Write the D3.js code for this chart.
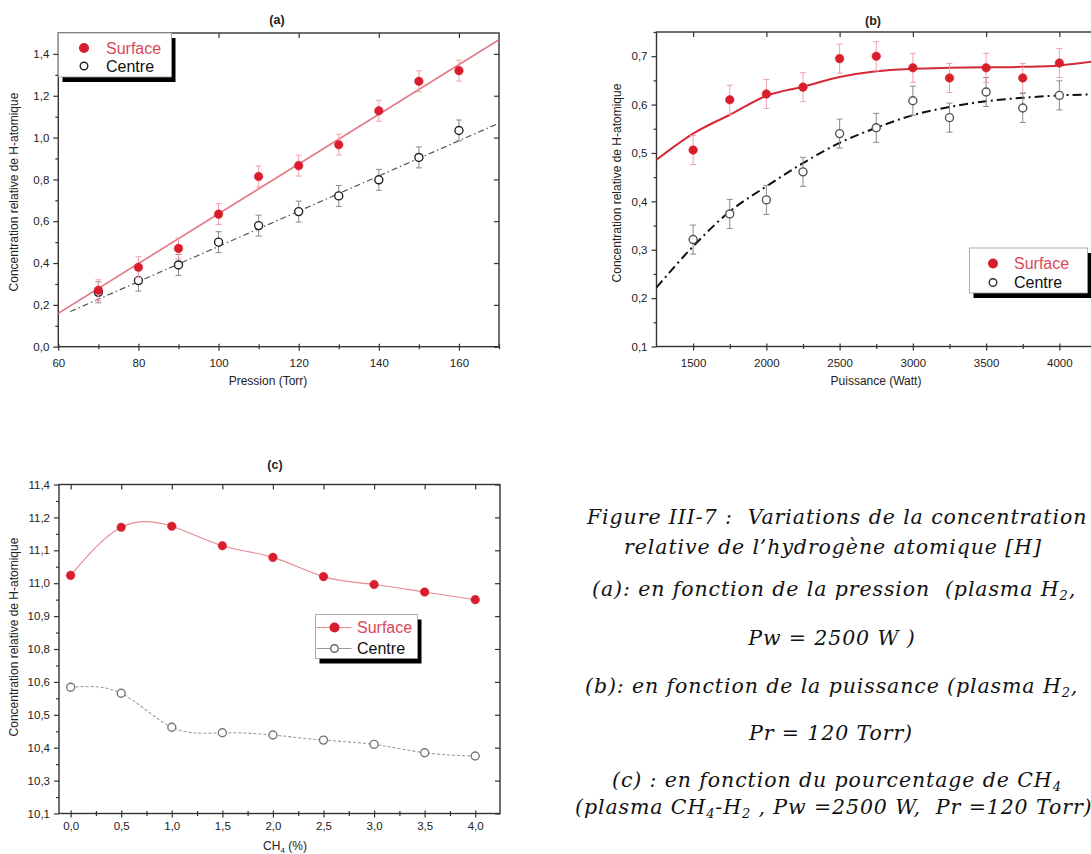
<!DOCTYPE html>
<html>
<head>
<meta charset="utf-8">
<script src="https://cdn.jsdelivr.net/npm/d3@7"></script>
<style>
body { margin: 0; background: #fff; }
svg { display: block; font-family: "Liberation Sans", Arial, sans-serif; }
.caption { font-family: "DejaVu Serif", serif; font-style: italic; font-size: 20.5px; letter-spacing: 0.9px; fill: #111; }
</style>
</head>
<body>
<div id="app"></div>
<script>
// ---- (a) en fonction de la pression
const pressA = [70, 80, 90, 100, 110, 120, 130, 140, 150, 160];
const surfA = [0.27, 0.38, 0.47, 0.634, 0.814, 0.866, 0.966, 1.128, 1.269, 1.32];
const centA = [0.26, 0.316, 0.391, 0.50, 0.579, 0.646, 0.721, 0.798, 0.905, 1.034];
const errSurfA = [0.05, 0.05, 0.05, 0.05, 0.05, 0.05, 0.05, 0.05, 0.05, 0.05];
const errCentA = [0.05, 0.05, 0.05, 0.05, 0.05, 0.05, 0.05, 0.05, 0.05, 0.05];
const fitSurfA = [[60, 0.16], [170, 1.468]];
const fitCentA = [[63, 0.168], [170, 1.069]];
const xTicksA = [60, 80, 100, 120, 140, 160];
const xMinorA = [70, 90, 110, 130, 150, 170];
const yTicksA = [0, 0.2, 0.4, 0.6, 0.8, 1.0, 1.2, 1.4];
const yMinorA = [0.1, 0.3, 0.5, 0.7, 0.9, 1.1, 1.3];

// ---- (b) en fonction de la puissance
const powerB = [1500, 1750, 2000, 2250, 2500, 2750, 3000, 3250, 3500, 3750, 4000];
const surfB = [0.506, 0.61, 0.622, 0.636, 0.695, 0.70, 0.676, 0.655, 0.676, 0.655, 0.686];
const centB = [0.321, 0.374, 0.403, 0.461, 0.54, 0.552, 0.608, 0.573, 0.626, 0.593, 0.619];
const errSurfB = [0.03, 0.03, 0.03, 0.03, 0.03, 0.03, 0.03, 0.03, 0.03, 0.03, 0.03];
const errCentB = [0.03, 0.03, 0.03, 0.03, 0.03, 0.03, 0.03, 0.03, 0.03, 0.03, 0.03];
const fitPowerB = [1250, 1500, 1750, 2000, 2250, 2500, 2750, 3000, 3250, 3500, 3750, 4000, 4250];
const fitSurfB = [0.486, 0.54, 0.579, 0.618, 0.637, 0.657, 0.669, 0.674, 0.676, 0.677, 0.678, 0.681, 0.69];
const fitCentB = [0.222, 0.307, 0.379, 0.431, 0.479, 0.521, 0.552, 0.578, 0.595, 0.607, 0.614, 0.619, 0.621];
const xTicksB = [1500, 2000, 2500, 3000, 3500, 4000];
const xMinorB = [1750, 2250, 2750, 3250, 3750, 4250];
const yTicksB = [0.1, 0.2, 0.3, 0.4, 0.5, 0.6, 0.7];
const yMinorB = [0.15, 0.25, 0.35, 0.45, 0.55, 0.65, 0.75];

// ---- (c) en fonction du pourcentage de CH4
const ch4C = [0, 0.5, 1.0, 1.5, 2.0, 2.5, 3.0, 3.5, 4.0];
const surfC = [11.041, 11.231, 11.235, 11.158, 11.112, 11.036, 11.005, 10.975, 10.945];
const centC = [10.599, 10.575, 10.441, 10.419, 10.41, 10.39, 10.373, 10.34, 10.327];
const xTicksC = [0, 0.5, 1.0, 1.5, 2.0, 2.5, 3.0, 3.5, 4.0];
const xMinorC = [0.25, 0.75, 1.25, 1.75, 2.25, 2.75, 3.25, 3.75];
const yLabelsC = ["10,1", "10,3", "10,4", "10,5", "10,6", "10,8", "10,9", "11,0", "11,1", "11,2", "11,4"];

const captionLines = [
  { x: 587, y: 524, anchor: "start", parts: [["Figure III-7 :  Variations de la concentration"]] },
  { x: 833, y: 554, anchor: "middle", parts: [["relative de l’hydrogène atomique [H]"]] },
  { x: 592, y: 596, anchor: "start", parts: [["(a): en fonction de la pression  (plasma H"], ["2", true], [","]] },
  { x: 832, y: 645, anchor: "middle", parts: [["Pw = 2500 W )"]] },
  { x: 585, y: 693, anchor: "start", parts: [["(b): en fonction de la puissance (plasma H"], ["2", true], [","]] },
  { x: 831, y: 740, anchor: "middle", parts: [["Pr = 120 Torr)"]] },
  { x: 612, y: 787, anchor: "start", parts: [["(c) : en fonction du pourcentage de CH"], ["4", true]] },
  { x: 575, y: 814, anchor: "start", parts: [["(plasma CH"], ["4", true], ["-H"], ["2", true], [" , Pw =2500 W,  Pr =120 Torr)"]] }
];

const RED = "#d81e2c";
const RED_TXT = "#d9485c";
const comma = v => d3.format(".1f")(v).replace(".", ",");

const svg = d3.select("#app").append("svg")
  .attr("width", 1091)
  .attr("height", 854);

let clipId = 0;

const drawPanel = (o) => {
  const x = d3.scaleLinear().domain(o.xDomain).range(o.xRange);
  const y = d3.scaleLinear().domain(o.yDomain).range(o.yRange);
  const [x0, x1] = o.xRange;
  const [yb, yt] = o.yRange;
  const g = svg.append("g");

  const id = "clip" + (clipId++);
  g.append("clipPath").attr("id", id)
    .append("rect").attr("x", x0).attr("y", yt).attr("width", x1 - x0).attr("height", yb - yt);

  // ticks
  const tickGroup = (axisFn, vals, size, fmt, pad, tr) => {
    const a = g.append("g")
      .attr("transform", tr)
      .style("color", "#333")
      .call(axisFn.tickValues(vals).tickSize(size).tickPadding(pad).tickFormat(fmt || (() => "")));
    a.select(".domain").remove();
    a.attr("font-family", null).attr("font-size", 11.5);
    a.selectAll("text").attr("fill", "#222");
    a.selectAll("line").attr("stroke-width", 1.2);
    return a;
  };
  tickGroup(d3.axisBottom(x), o.xTicks, 4, o.xFmt, o.xPad, `translate(0,${yb})`);
  tickGroup(d3.axisBottom(x), o.xTicks, -3, null, 0, `translate(0,${yb})`);
  tickGroup(d3.axisBottom(x), o.xMinor, 2.5, null, 0, `translate(0,${yb})`);
  tickGroup(d3.axisBottom(x), o.xMinor, -2.5, null, 0, `translate(0,${yb})`);
  tickGroup(d3.axisTop(x), o.xTicks, -5, null, 0, `translate(0,${yt})`);
  tickGroup(d3.axisLeft(y), o.yTicks, 5, o.yFmt, 4, `translate(${x0},0)`);
  tickGroup(d3.axisLeft(y), o.yMinor, 3, null, 0, `translate(${x0},0)`);
  tickGroup(d3.axisRight(y), o.yTicks, -5, null, 0, `translate(${x1},0)`);

  // frame
  g.append("rect")
    .attr("x", x0).attr("y", yt)
    .attr("width", x1 - x0).attr("height", yb - yt)
    .attr("fill", "none").attr("stroke", "#333").attr("stroke-width", 1.4);

  const plot = g.append("g").attr("clip-path", `url(#${id})`);

  // fit / guide lines
  for (const ln of o.lines) {
    plot.append("path")
      .datum(ln.points)
      .attr("fill", "none")
      .attr("stroke", ln.color)
      .attr("stroke-width", ln.width)
      .attr("stroke-dasharray", ln.dash || null)
      .attr("d", d3.line().x(d => x(d[0])).y(d => y(d[1])).curve(ln.curve || d3.curveLinear));
  }

  // series
  for (const s of o.series) {
    if (s.err) {
      const eb = plot.append("g").attr("stroke", s.errColor).attr("stroke-width", 1);
      s.xs.forEach((xv, i) => {
        const lo = y(s.ys[i] - s.err[i]), hi = y(s.ys[i] + s.err[i]), cx = x(xv);
        eb.append("line").attr("x1", cx).attr("x2", cx).attr("y1", lo).attr("y2", hi);
        eb.append("line").attr("x1", cx - 3).attr("x2", cx + 3).attr("y1", lo).attr("y2", lo);
        eb.append("line").attr("x1", cx - 3).attr("x2", cx + 3).attr("y1", hi).attr("y2", hi);
      });
    }
    plot.selectAll(null)
      .data(s.xs.map((xv, i) => [xv, s.ys[i]]))
      .enter().append("circle")
      .attr("cx", d => x(d[0]))
      .attr("cy", d => y(d[1]))
      .attr("r", s.filled ? 4.3 : 4)
      .attr("fill", s.filled ? RED : "#fff")
      .attr("stroke", s.filled ? RED : s.stroke)
      .attr("stroke-width", s.filled ? 0.5 : 1.4);
  }

  // title
  g.append("text").attr("x", o.title[1]).attr("y", o.title[2])
    .attr("text-anchor", "middle").attr("font-weight", "bold").attr("font-size", 12.5)
    .attr("fill", "#222").text(o.title[0]);

  // axis labels
  const xl = g.append("text").attr("x", o.xLabelPos[0]).attr("y", o.xLabelPos[1])
    .attr("text-anchor", "middle").attr("font-size", 12).attr("fill", "#222");
  if (o.xLabelSub) {
    xl.append("tspan").text("CH");
    xl.append("tspan").attr("font-size", 8).attr("dy", 3).text("4");
    xl.append("tspan").attr("dy", -3).text(" (%)");
  } else {
    xl.text(o.xLabel);
  }
  g.append("text")
    .attr("transform", `translate(${o.yLabelPos[0]},${o.yLabelPos[1]}) rotate(-90)`)
    .attr("text-anchor", "middle").attr("font-size", 12).attr("fill", "#222")
    .text("Concentration relative de H-atomique");

  // legend
  const L = o.legend;
  const lg = g.append("g");
  lg.append("rect").attr("x", L.x + 4).attr("y", L.y + 5).attr("width", L.w).attr("height", L.h).attr("fill", "#000");
  lg.append("rect").attr("x", L.x).attr("y", L.y).attr("width", L.w).attr("height", L.h)
    .attr("fill", "#fff").attr("stroke", "#999").attr("stroke-width", 0.8);
  const entries = [
    { name: "Surface", filled: true, color: RED_TXT, line: L.lines ? "#e58a94" : null },
    { name: "Centre", filled: false, color: "#111", line: L.lines ? "#999" : null }
  ];
  entries.forEach((e, i) => {
    const cy = L.y + L.row0 + i * L.rowH;
    if (e.line) {
      lg.append("line").attr("x1", L.x + 1).attr("x2", L.markX + 17).attr("y1", cy).attr("y2", cy)
        .attr("stroke", e.line).attr("stroke-width", 1);
    }
    lg.append("circle").attr("cx", L.markX).attr("cy", cy).attr("r", e.filled ? 4.3 : 3.8)
      .attr("fill", e.filled ? RED : "#fff")
      .attr("stroke", e.filled ? RED : L.openStroke).attr("stroke-width", 1.4);
    lg.append("text").attr("x", L.textX).attr("y", cy + 5.5)
      .attr("font-size", 16).attr("fill", e.color).text(e.name);
  });
};

// (a)
drawPanel({
  xDomain: [60, 170], xRange: [58.3, 499],
  yDomain: [0, 1.5], yRange: [346.7, 33],
  xTicks: xTicksA, xMinor: xMinorA, yTicks: yTicksA, yMinor: yMinorA,
  xFmt: d3.format("d"), yFmt: comma, xPad: 8,
  title: ["(a)", 277, 24],
  xLabel: "Pression (Torr)", xLabelPos: [268, 385], yLabelPos: [18, 192],
  lines: [
    { points: fitSurfA, color: "#e27a86", width: 1.6 },
    { points: fitCentA, color: "#555", width: 1.2, dash: "6,3,1.5,3" }
  ],
  series: [
    { xs: pressA, ys: centA, err: errCentA, errColor: "#8a8a8a", filled: false, stroke: "#222" },
    { xs: pressA, ys: surfA, err: errSurfA, errColor: "#eea3ab", filled: true }
  ],
  legend: { x: 58.5, y: 33, w: 113, h: 44, row0: 15, rowH: 18, markX: 84, textX: 106, openStroke: "#222" }
});

// (b)
drawPanel({
  xDomain: [1250, 4250], xRange: [656.5, 1096],
  yDomain: [0.1, 0.75], yRange: [346.5, 32],
  xTicks: xTicksB, xMinor: xMinorB, yTicks: yTicksB, yMinor: yMinorB,
  xFmt: d3.format("d"), yFmt: comma, xPad: 8,
  title: ["(b)", 873, 25],
  xLabel: "Puissance (Watt)", xLabelPos: [876, 385], yLabelPos: [621, 183],
  lines: [
    { points: fitPowerB.map((p, i) => [p, fitSurfB[i]]), color: "#d42a36", width: 2, curve: d3.curveMonotoneX },
    { points: fitPowerB.map((p, i) => [p, fitCentB[i]]), color: "#111", width: 2, dash: "9,4,2,4", curve: d3.curveMonotoneX }
  ],
  series: [
    { xs: powerB, ys: centB, err: errCentB, errColor: "#8a8a8a", filled: false, stroke: "#555" },
    { xs: powerB, ys: surfB, err: errSurfB, errColor: "#eea3ab", filled: true }
  ],
  legend: { x: 969.5, y: 248, w: 118, h: 45, row0: 15.5, rowH: 19, markX: 993, textX: 1014, openStroke: "#333" }
});

// (c)
const yScaleTicksC = d3.range(yLabelsC.length).map(i => 10.1 + i * 0.13);
drawPanel({
  xDomain: [-0.115, 4.245], xRange: [59, 500],
  yDomain: [10.1, 11.4], yRange: [813.5, 484.5],
  xTicks: xTicksC, xMinor: xMinorC,
  yTicks: yScaleTicksC, yMinor: yScaleTicksC.slice(0, -1).map(v => v + 0.065),
  xFmt: comma, yFmt: (d, i) => yLabelsC[i], xPad: 4,
  title: ["(c)", 275, 469],
  xLabelSub: true, xLabelPos: [285, 850], yLabelPos: [18, 637],
  lines: [
    { points: ch4C.map((c, i) => [c, surfC[i]]), color: "#e58a94", width: 1.1, curve: d3.curveNatural },
    { points: ch4C.map((c, i) => [c, centC[i]]), color: "#9a9a9a", width: 1.1, dash: "3,2", curve: d3.curveNatural }
  ],
  series: [
    { xs: ch4C, ys: surfC, filled: true },
    { xs: ch4C, ys: centC, filled: false, stroke: "#777" }
  ],
  legend: { x: 315.5, y: 614.5, w: 102, h: 44, row0: 13, rowH: 21, markX: 334.5, textX: 357, openStroke: "#666", lines: true }
});

// caption
const cap = svg.append("g").attr("class", "caption");
for (const line of captionLines) {
  const t = cap.append("text")
    .attr("x", line.x).attr("y", line.y)
    .attr("text-anchor", line.anchor)
    .attr("xml:space", "preserve")
    .style("white-space", "pre");
  let down = false;
  for (const [txt, sub] of line.parts) {
    const ts = t.append("tspan").text(txt);
    if (sub && !down) { ts.attr("font-size", 13).attr("dy", 4); down = true; }
    else if (!sub && down) { ts.attr("dy", -4); down = false; }
  }
}
</script>
</body>
</html>
